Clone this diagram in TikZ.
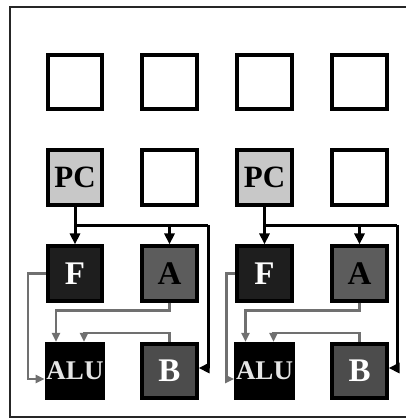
\documentclass[tikz,border=0pt]{standalone}
\usepackage{fontspec}
\setmainfont{Liberation Serif}
\usetikzlibrary{arrows.meta}

\definecolor{pcgray}{HTML}{C8C8C8}
\definecolor{fdark}{HTML}{1E1E1E}
\definecolor{agray}{HTML}{5C5C5C}
\definecolor{bgray}{HTML}{4C4C4C}
\definecolor{wiregray}{HTML}{707070}

\tikzset{
  cell/.style={draw=black, line width=3.6pt, minimum size=54.5pt, inner sep=0pt, font=\bfseries\fontsize{33}{33}\selectfont},
  ctl/.style={black, line width=3pt, -{Triangle[length=11pt,width=10pt]}},
  dat/.style={wiregray, line width=2.5pt, -{Triangle[length=9pt,width=8pt]}}
}

\begin{document}
\begin{tikzpicture}[x=1pt,y=-1pt]
\useasboundingbox (0,0) rectangle (405,419);
\fill[white] (0,0) rectangle (405,419);
\draw[black!85, line width=1.8pt] (420,7) -- (10,7) -- (10,417) -- (420,417);

\node[cell] (e1) at (75,82) {};
\node[cell] (e2) at (169.5,82) {};
\node[cell] (e3) at (264.5,82) {};
\node[cell] (e4) at (359.5,82) {};

\node[cell, fill=pcgray, font=\bfseries\fontsize{31}{31}\selectfont] (pc1) at (75,177.5) {PC};
\node[cell] (e5) at (169.5,177.5) {};
\node[cell, fill=pcgray, font=\bfseries\fontsize{31}{31}\selectfont] (pc2) at (264.5,177.5) {PC};
\node[cell] (e6) at (359.5,177.5) {};

\node[cell, fill=fdark, text=white] (f1) at (75,273.5) {F};
\node[cell, fill=agray, text=black] (a1) at (169.5,273.5) {A};
\node[cell, fill=fdark, text=white] (f2) at (264.5,273.5) {F};
\node[cell, fill=agray, text=black] (a2) at (359.5,273.5) {A};

\node[cell, fill=black, text=black!10, font=\bfseries\fontsize{27}{27}\selectfont] (alu1) at (75,371) {ALU};
\node[cell, fill=bgray, text=white] (b1) at (169.5,371) {B};
\node[cell, fill=black, text=black!10, font=\bfseries\fontsize{27}{27}\selectfont] (alu2) at (264.5,371) {ALU};
\node[cell, fill=bgray, text=white] (b2) at (359.5,371) {B};

% control lines from the program counters
\coordinate (j1) at (75,225);
\coordinate (k1) at (208,225);
\coordinate (j2) at (264.5,225);
\coordinate (k2) at (397,225);
\draw[ctl] (pc1.south) -- (f1.north);
\draw[black, line width=3pt] (j1) -- (k1);
\draw[ctl] (a1.north |- j1) -- (a1.north);
\draw[ctl] (k1) |- ([yshift=3pt]b1.east);
\draw[ctl] (pc2.south) -- (f2.north);
\draw[black, line width=3pt] (j2) -- (k2);
\draw[ctl] (a2.north |- j2) -- (a2.north);
\draw[ctl] (k2) |- ([yshift=3pt]b2.east);

% data paths into the ALUs
\draw[dat] (f1.west) -- ++(-18,0) |- ([yshift=-8pt]alu1.west);
\draw[dat] (a1.south) -- ++(0,8) -| ([xshift=-19pt]alu1.north);
\draw[dat] (b1.north) -- ++(0,-9) -| ([xshift=9pt]alu1.north);
\draw[dat] (f2.west) -- ++(-9,0) |- ([yshift=-8pt]alu2.west);
\draw[dat] (a2.south) -- ++(0,8) -| ([xshift=-19pt]alu2.north);
\draw[dat] (b2.north) -- ++(0,-9) -| ([xshift=9pt]alu2.north);
\end{tikzpicture}
\end{document}
